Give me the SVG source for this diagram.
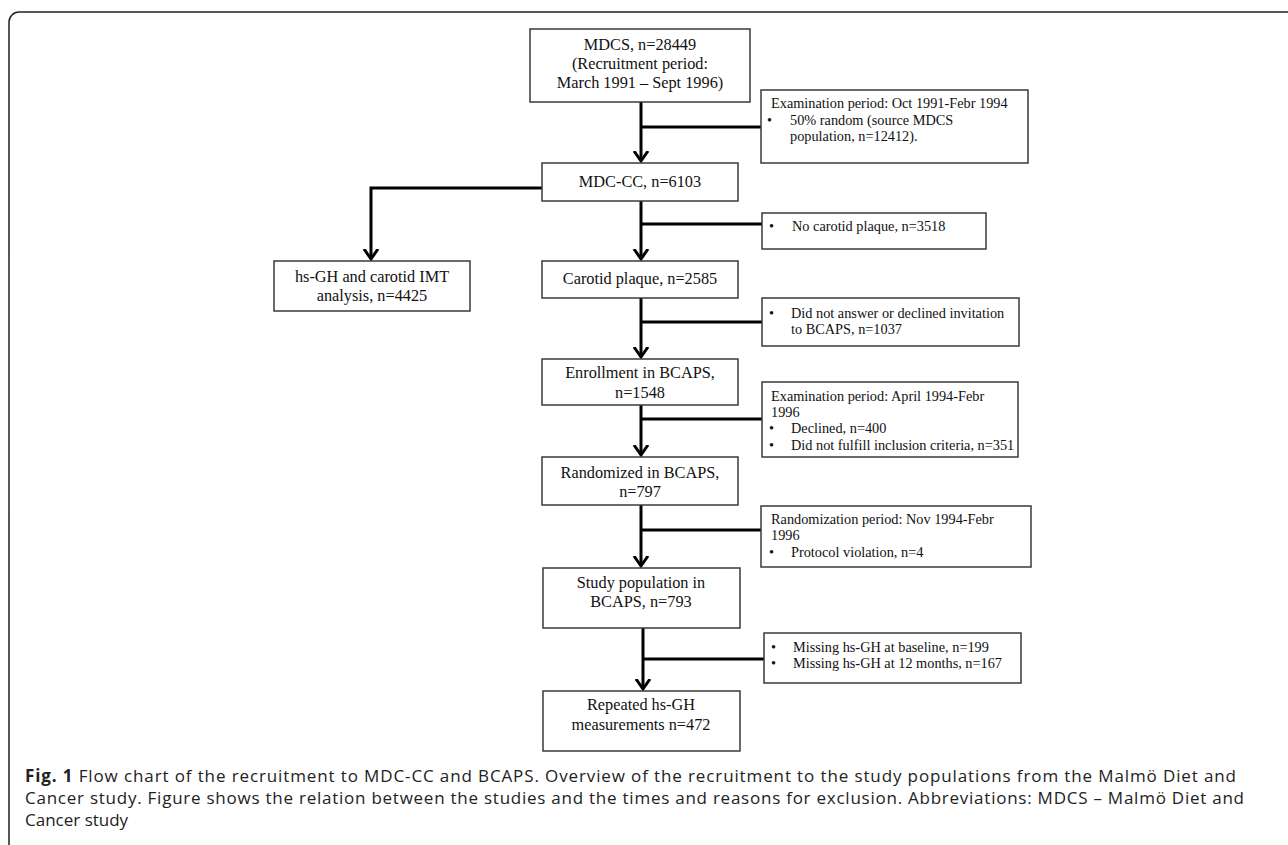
<svg xmlns="http://www.w3.org/2000/svg" width="1288" height="845" viewBox="0 0 1288 845">
<defs>
<style>
.box{fill:#fff;stroke:#3a3a3a;stroke-width:1.5}
.t{font-family:"Liberation Serif","Times New Roman",serif;font-size:16.3px;fill:#111;text-anchor:middle}
.s{font-family:"Liberation Serif","Times New Roman",serif;font-size:14.3px;fill:#111}
.c{stroke:#000;stroke-width:3;fill:none}
.cap{font-family:"Open Sans","Noto Sans",sans-serif;font-size:17px;fill:#222}
</style>
<marker id="ah" markerUnits="userSpaceOnUse" markerWidth="20" markerHeight="20" viewBox="-10 -10 20 20" refX="0" refY="0" orient="auto">
<path d="M-10,-7 L0,0 L-10,7" fill="none" stroke="#000" stroke-width="3"/>
</marker>
</defs>
<rect x="9" y="12" width="1300" height="850" rx="10" ry="10" fill="#fff" stroke="#222" stroke-width="1.5"/>
<g id="connectors">
<path class="c" d="M641,102 V161" marker-end="url(#ah)"/>
<path class="c" d="M641,127 H762"/>
<path class="c" d="M542,188 H371 V259" marker-end="url(#ah)"/>
<path class="c" d="M641,201 V259" marker-end="url(#ah)"/>
<path class="c" d="M641,224 H762"/>
<path class="c" d="M641,298 V357" marker-end="url(#ah)"/>
<path class="c" d="M641,322 H762"/>
<path class="c" d="M641,405 V455" marker-end="url(#ah)"/>
<path class="c" d="M641,419 H762"/>
<path class="c" d="M641,505 V566" marker-end="url(#ah)"/>
<path class="c" d="M641,530 H762"/>
<path class="c" d="M643,628 V689" marker-end="url(#ah)"/>
<path class="c" d="M643,659 H764"/>
</g>
<g id="n-mdcs">
<rect class="box" x="530" y="29" width="220" height="73"/>
<text class="t" x="640" y="50">MDCS, n=28449</text>
<text class="t" x="640" y="69">(Recruitment period:</text>
<text class="t" x="640" y="88">March 1991 – Sept 1996)</text>
</g>
<g id="n-exam1">
<rect class="box" x="761" y="90" width="267" height="73"/>
<text class="s" x="771" y="108">Examination period: Oct 1991-Febr 1994</text>
<text class="s" x="767" y="125">•</text>
<text class="s" x="790" y="125">50% random (source MDCS</text>
<text class="s" x="790" y="141">population, n=12412).</text>
</g>
<g id="n-mdccc">
<rect class="box" x="542" y="163" width="196" height="38"/>
<text class="t" x="640" y="187">MDC-CC, n=6103</text>
</g>
<g id="n-noplaque">
<rect class="box" x="762" y="213" width="224" height="36"/>
<text class="s" x="769" y="231">•</text>
<text class="s" x="792" y="231">No carotid plaque, n=3518</text>
</g>
<g id="n-hsgh">
<rect class="box" x="274" y="261" width="196" height="50"/>
<text class="t" x="372" y="282">hs-GH and carotid IMT</text>
<text class="t" x="372" y="301">analysis, n=4425</text>
</g>
<g id="n-plaque">
<rect class="box" x="542" y="261" width="196" height="37"/>
<text class="t" x="640" y="284">Carotid plaque, n=2585</text>
</g>
<g id="n-declined">
<rect class="box" x="762" y="298" width="257" height="48"/>
<text class="s" x="769" y="318">•</text>
<text class="s" x="791" y="318">Did not answer or declined invitation</text>
<text class="s" x="791" y="334">to BCAPS,  n=1037</text>
</g>
<g id="n-enroll">
<rect class="box" x="542" y="359" width="196" height="46"/>
<text class="t" x="640" y="378">Enrollment in BCAPS,</text>
<text class="t" x="640" y="398">n=1548</text>
</g>
<g id="n-exam2">
<rect class="box" x="762" y="382" width="256" height="75"/>
<text class="s" x="771" y="401">Examination period: April 1994-Febr</text>
<text class="s" x="771" y="417">1996</text>
<text class="s" x="769" y="433">•</text>
<text class="s" x="791" y="433">Declined, n=400</text>
<text class="s" x="769" y="450">•</text>
<text class="s" x="791" y="450">Did not fulfill inclusion criteria, n=351</text>
</g>
<g id="n-random">
<rect class="box" x="542" y="457" width="196" height="48"/>
<text class="t" x="640" y="478">Randomized in BCAPS,</text>
<text class="t" x="640" y="497">n=797</text>
</g>
<g id="n-randper">
<rect class="box" x="761" y="506" width="270" height="61"/>
<text class="s" x="771" y="524">Randomization period: Nov 1994-Febr</text>
<text class="s" x="771" y="540">1996</text>
<text class="s" x="769" y="557">•</text>
<text class="s" x="791" y="557">Protocol violation, n=4</text>
</g>
<g id="n-study">
<rect class="box" x="543" y="568" width="197" height="60"/>
<text class="t" x="641" y="588">Study population in</text>
<text class="t" x="641" y="607">BCAPS, n=793</text>
</g>
<g id="n-missing">
<rect class="box" x="764" y="633" width="257" height="50"/>
<text class="s" x="771" y="652">•</text>
<text class="s" x="793" y="652">Missing hs-GH at baseline, n=199</text>
<text class="s" x="771" y="668">•</text>
<text class="s" x="793" y="668">Missing hs-GH at 12 months, n=167</text>
</g>
<g id="n-repeated">
<rect class="box" x="543" y="691" width="197" height="60"/>
<text class="t" x="641" y="710">Repeated hs-GH</text>
<text class="t" x="641" y="730">measurements n=472</text>
</g>
<g id="caption">
<text class="cap" x="25" y="782" textLength="1211" lengthAdjust="spacing"><tspan font-weight="bold">Fig. 1</tspan> Flow chart of the recruitment to MDC-CC and BCAPS. Overview of the recruitment to the study populations from the Malmö Diet and</text>
<text class="cap" x="25" y="804" textLength="1219" lengthAdjust="spacing">Cancer study. Figure shows the relation between the studies and the times and reasons for exclusion. Abbreviations: MDCS – Malmö Diet and</text>
<text class="cap" x="25" y="826">Cancer study</text>
</g>
</svg>
